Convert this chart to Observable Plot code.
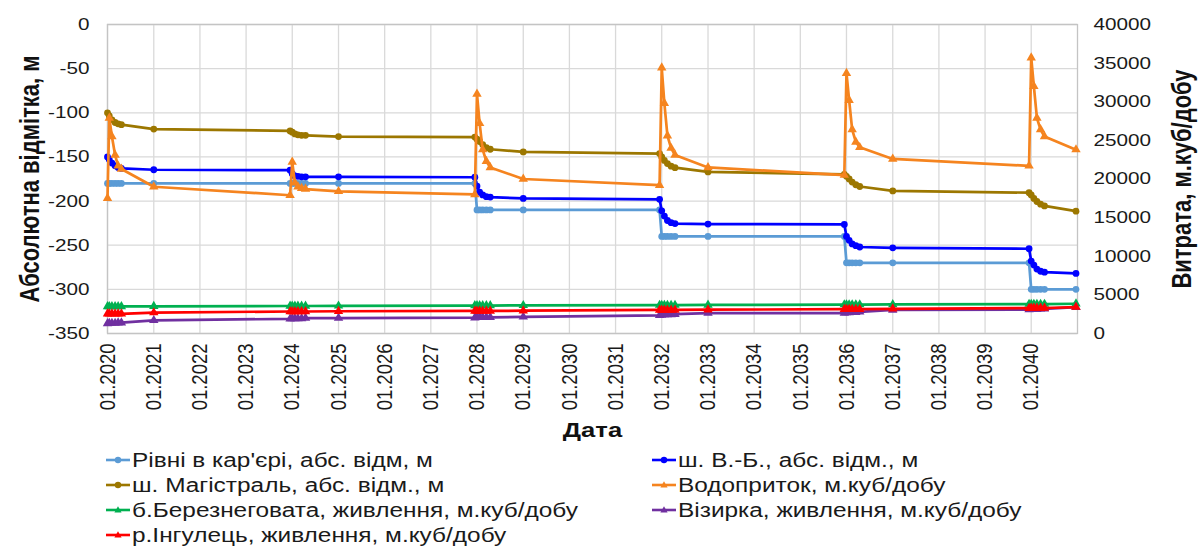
<!DOCTYPE html>
<html>
<head>
<meta charset="utf-8">
<script src="https://cdn.jsdelivr.net/npm/d3@7"></script>
<script src="https://cdn.jsdelivr.net/npm/@observablehq/plot@0.6"></script>
<style>
  html, body { margin: 0; padding: 0; background: #ffffff; }
  body { font-family: "Liberation Sans", Arial, sans-serif; }
  #wrap { position: relative; width: 1200px; height: 548px; overflow: hidden; }
  #legend { position: absolute; left: 0; top: 0; width: 1200px; height: 548px; pointer-events: none; }
  .li { position: absolute; display: flex; align-items: center; height: 24px; font-size: 20px; color: #1a1a1a; white-space: nowrap; }
  .li svg { flex: none; }
  .li span { display: inline-block; margin-left: 2px; transform: scaleX(1.22); transform-origin: left center; }
</style>
</head>
<body>
<div id="wrap"><div id="chart"></div><div id="legend"></div></div>
<script>
// ---------------- DATA ----------------
const dates = [
  "2020-01-01","2020-01-15","2020-02-05","2020-03-01","2020-03-25","2020-04-20","2021-01-01",
  "2023-12-15","2024-01-01","2024-01-22","2024-02-15","2024-03-15","2024-04-15","2025-01-01",
  "2027-12-15","2028-01-01","2028-01-22","2028-02-15","2028-03-15","2028-04-15","2029-01-01",
  "2031-12-15","2032-01-01","2032-01-22","2032-02-15","2032-03-15","2032-04-15","2033-01-01",
  "2035-12-15","2036-01-01","2036-01-22","2036-02-15","2036-03-15","2036-04-15","2037-01-01",
  "2039-12-15","2040-01-01","2040-01-22","2040-02-15","2040-03-15","2040-04-15","2040-12-20"
];
// left axis, m
const pitLevel = [
  -180,-180,-180,-180,-180,-180,-180,
  -180,-180,-180,-180,-180,-180,-180,
  -180,-210,-210,-210,-210,-210,-210,
  -210,-240,-240,-240,-240,-240,-240,
  -240,-270,-270,-270,-270,-270,-270,
  -270,-300,-300,-300,-300,-300,-300
];
const vbLevel = [
  -150,-153,-157,-160,-162,-163,-164.5,
  -165,-169,-171.5,-172,-172.5,-172.5,-172.5,
  -173,-183,-190,-193,-195,-195.5,-197,
  -198,-211,-217,-222,-224.5,-225.5,-226,
  -226.5,-240,-244.5,-248.5,-250.5,-252,-253,
  -254,-268,-272.5,-277,-279.5,-280.5,-282
];
const magLevel = [
  -100,-103.5,-108,-111,-112.5,-113.5,-118.5,
  -120.5,-122,-124,-125,-125.5,-125.5,-127,
  -127.5,-130,-132.5,-136,-139.5,-141.3,-144.3,
  -146.2,-150,-154,-157.5,-160.5,-162.2,-167,
  -169.7,-172,-175,-178.5,-181.5,-183.5,-188.5,
  -190.5,-193,-197,-200.5,-203.5,-205.5,-211.4
];
// right axis, m3/day
const inflow = [
  17500,27900,25500,23100,21700,21300,19000,
  17900,22200,19500,19000,18800,18700,18400,
  18000,31000,27200,23800,22300,21500,20000,
  19200,34400,29800,25600,24000,23100,21500,
  20500,33700,30200,26400,24800,24100,22600,
  21700,35700,32000,27900,26400,25500,23800
];
const berez = [
  3500,3500,3500,3500,3500,3500,3520,
  3560,3560,3560,3560,3560,3560,3580,
  3620,3620,3620,3620,3620,3620,3640,
  3680,3680,3680,3680,3680,3680,3700,
  3740,3740,3740,3740,3740,3740,3760,
  3800,3800,3800,3800,3800,3800,3850
];
const vizirka = [
  1300,1350,1350,1350,1400,1400,1700,
  1900,1950,1950,1950,1950,2000,2000,
  2050,2100,2100,2100,2100,2100,2150,
  2350,2400,2450,2450,2450,2500,2650,
  2650,2700,2700,2750,2750,2800,3050,
  3100,3150,3150,3150,3200,3200,3400
];
const ingulets = [
  2550,2550,2550,2550,2550,2550,2700,
  2850,2850,2850,2850,2850,2850,2880,
  2920,2920,2920,2920,2920,2920,2950,
  3050,3050,3050,3050,3050,3050,3080,
  3150,3150,3150,3150,3150,3150,3200,
  3280,3300,3300,3300,3300,3300,3420
];
const leftTicks = [-350,-300,-250,-200,-150,-100,-50,0];
const rightTicks = [0,5000,10000,15000,20000,25000,30000,35000,40000];
const yearTicks = d3.range(2020, 2041).map(y => `${y}-01-01`);
const xDomain = ["2020-01-01","2041-01-01"];
const leftTitle = "Абсолютна відмітка, м";
const rightTitle = "Витрата, м.куб/добу";
const xTitle = "Дата";

const seriesNames = [
  "Рівні в кар'єрі, абс. відм, м",
  "ш. В.-Б., абс. відм., м",
  "ш. Магістраль, абс. відм., м",
  "Водоприток, м.куб/добу",
  "б.Березнеговата, живлення, м.куб/добу",
  "Візирка, живлення, м.куб/добу",
  "р.Інгулець, живлення, м.куб/добу"
];
const seriesValues = [pitLevel, vbLevel, magLevel, inflow, berez, vizirka, ingulets];
const seriesAxis = ["left","left","left","right","right","right","right"];
const seriesColors = ["#5b9bd5","#0000ff","#9c7700","#f5841f","#00b050","#7030a0","#ff0000"];
const seriesSymbols = ["circle","circle","circle","triangle","triangle","triangle","triangle"];

// ---------------- CHART ----------------
const Y_MIN = -350, Y_MAX = 0, W_MAX = 40000;
const toLeft = w => Y_MIN + (w / W_MAX) * (Y_MAX - Y_MIN);
const fromLeft = v => Math.round((v - Y_MIN) / (Y_MAX - Y_MIN) * W_MAX);
const parse = d3.utcParse("%Y-%m-%d");
const D = dates.map(parse);

const tables = seriesValues.map((vals, i) => vals.map((v, j) => ({
  date: D[j],
  y: seriesAxis[i] === "left" ? v : toLeft(v)
})));

const fmtX = d3.utcFormat("%m.%Y");

const marks = [
  Plot.gridY(leftTicks, {stroke: "#d9d9d9", strokeOpacity: 1, strokeWidth: 1.3}),
  Plot.gridX(yearTicks.map(parse), {stroke: "#d9d9d9", strokeOpacity: 1, strokeWidth: 1.3}),
  Plot.frame({stroke: "#c4c4c4", strokeWidth: 1.3}),
  Plot.axisY(leftTicks, {anchor: "left", tickSize: 0, tickPadding: 18, label: null, tickFormat: d => String(d)}),
  Plot.axisY(rightTicks.map(toLeft), {anchor: "right", tickSize: 0, tickPadding: 16, label: null, tickFormat: v => String(fromLeft(v))}),
  Plot.axisX(yearTicks.map(parse), {anchor: "bottom", tickSize: 0, tickPadding: 10, tickRotate: -90, label: null, tickFormat: fmtX, fontSize: 18.5}),
];
tables.forEach((t, i) => {
  marks.push(Plot.line(t, {x: "date", y: "y", stroke: seriesColors[i], strokeWidth: 2.7}));
  marks.push(Plot.dot(t, {x: "date", y: "y", symbol: seriesSymbols[i], r: seriesSymbols[i] === "circle" ? 3.4 : 3.5, fill: seriesColors[i], stroke: "none"}));
});
marks.push(
  Plot.text([leftTitle], {text: d => d, frameAnchor: "left", dx: -77, rotate: -90, textAnchor: "middle", lineAnchor: "middle", fontSize: 22, fontWeight: "bold", fill: "#111"}),
  Plot.text([rightTitle], {text: d => d, frameAnchor: "right", dx: 105, rotate: -90, textAnchor: "middle", lineAnchor: "middle", fontSize: 22, fontWeight: "bold", fill: "#111"}),
  Plot.text([xTitle], {text: d => d, frameAnchor: "bottom", dy: 97, textAnchor: "middle", lineAnchor: "middle", fontSize: 21, fontWeight: "bold", fill: "#111"})
);

const chart = Plot.plot({
  width: 1200,
  height: 440,
  marginLeft: 107,
  marginRight: 123,
  marginTop: 24,
  marginBottom: 107,
  x: {type: "utc", domain: xDomain.map(parse)},
  y: {domain: [Y_MIN, Y_MAX]},
  style: {fontFamily: "'Liberation Sans', Arial, sans-serif", fontSize: "17px", color: "#1a1a1a", background: "transparent", overflow: "visible"},
  marks
});

// the reference's lettering is horizontally widened; reproduce that
chart.querySelectorAll("text").forEach(t => {
  const tr = t.getAttribute("transform");
  if (tr && /^translate\(/.test(tr)) {
    t.setAttribute("transform", tr.replace(/^translate\([^)]*\)/, m => m + " scale(1.22,1)"));
  }
});
document.getElementById("chart").appendChild(chart);

// ---------------- LEGEND ----------------
const legend = document.getElementById("legend");
const colX = [106, 652];
const rowY = [460, 485, 510, 535];
seriesNames.forEach((name, i) => {
  const col = i % 2, row = Math.floor(i / 2);
  const item = document.createElement("div");
  item.className = "li";
  item.style.left = colX[col] + "px";
  item.style.top = (rowY[row] - 12) + "px";
  const sym = seriesSymbols[i] === "circle"
    ? `<circle cx="12" cy="6" r="3.2" fill="${seriesColors[i]}"/>`
    : `<path d="M12,2.2 L15.6,8.6 L8.4,8.6 Z" fill="${seriesColors[i]}"/>`;
  item.innerHTML = `<svg width="24" height="12" viewBox="0 0 24 12"><line x1="0" y1="6" x2="24" y2="6" stroke="${seriesColors[i]}" stroke-width="2.6"/>${sym}</svg><span>${name}</span>`;
  legend.appendChild(item);
});
</script>
</body>
</html>
